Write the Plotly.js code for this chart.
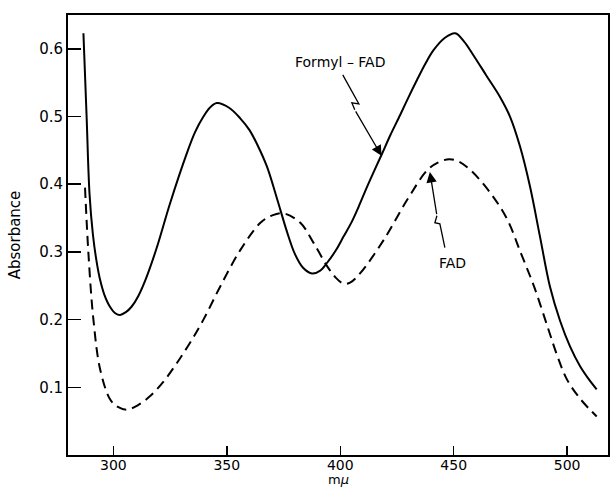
<!DOCTYPE html>
<html>
<head>
<meta charset="utf-8">
<script src="https://cdn.plot.ly/plotly-3.0.1.min.js"></script>
<style>html,body{margin:0;padding:0;background:#fff;}#chart{width:610px;height:488px;}</style>
</head>
<body>
<div id="chart"></div>
<script>
// Wavelength (mμ) and absorbance, Formyl-FAD (solid)
const formylX = [286.8, 288.2, 289.5, 291, 292.5, 294.2, 296, 298.5, 301, 303, 305.5, 308, 311, 314.4, 319, 325, 332.4, 336, 339.7, 342.5, 345.6, 351, 356, 360, 363.5, 367.7, 372.1, 376.5, 380, 383.5, 387.6, 391, 394.2, 398, 401.5, 405, 408, 411.8, 415, 418.4, 422, 426.5, 430, 433.8, 437.5, 441.1, 446, 450.7, 454.5, 458.6, 464.5, 470.4, 474.8, 479.2, 483.6, 488, 492.4, 496.9, 501.3, 505.7, 509.5, 513];
const formylY = [0.623, 0.500, 0.385, 0.325, 0.288, 0.258, 0.237, 0.219, 0.209, 0.207, 0.211, 0.219, 0.235, 0.261, 0.305, 0.372, 0.446, 0.477, 0.500, 0.513, 0.520, 0.513, 0.497, 0.480, 0.458, 0.426, 0.379, 0.330, 0.297, 0.277, 0.268, 0.272, 0.284, 0.302, 0.323, 0.344, 0.366, 0.396, 0.420, 0.445, 0.472, 0.503, 0.528, 0.554, 0.578, 0.598, 0.616, 0.623, 0.611, 0.591, 0.560, 0.529, 0.500, 0.456, 0.397, 0.323, 0.249, 0.198, 0.160, 0.131, 0.112, 0.097];
// FAD (dashed)
const fadX = [287.5, 289, 291.2, 294.2, 298.6, 302, 306, 311, 316.2, 322, 328, 334, 339.7, 347.1, 356, 364.8, 370, 375, 382.4, 388.3, 394.2, 398, 401.5, 404.5, 408.9, 419.2, 429.5, 438.4, 443, 448, 452, 457.4, 466.2, 473.6, 479.5, 485.4, 491.3, 495.7, 500, 506, 513];
const fadY = [0.395, 0.298, 0.200, 0.126, 0.082, 0.071, 0.067, 0.074, 0.087, 0.108, 0.136, 0.167, 0.200, 0.249, 0.303, 0.343, 0.354, 0.357, 0.343, 0.313, 0.279, 0.262, 0.253, 0.255, 0.269, 0.318, 0.377, 0.421, 0.432, 0.437, 0.434, 0.421, 0.387, 0.348, 0.299, 0.249, 0.190, 0.146, 0.111, 0.082, 0.057];

const xTicks = [300, 350, 400, 450, 500];
const yTicks = [0.1, 0.2, 0.3, 0.4, 0.5, 0.6];
const yTickText = ['0.1', '0.2', '0.3', '0.4', '0.5', '0.6'];
const xTitle = 'm<i>μ</i>';
const yTitle = 'Absorbance';

// label pointers (tail polyline with break mark, then arrow to the curve)
const formylLabel = {text: 'Formyl – FAD', x: 399.8, y: 0.581};
const formylPtrX = [401.1, 408.2, 405.1, 406.4];
const formylPtrY = [0.5616, 0.5188, 0.5202, 0.5099];
const formylHead = [418.2, 0.442];
const fadLabel = {text: 'FAD', x: 449.4, y: 0.284};
const fadPtrX = [446.1, 443.9, 441.7, 442.6];
const fadPtrY = [0.3062, 0.3416, 0.3431, 0.3535];
const fadHead = [439.5, 0.418];

const fam = 'DejaVu Sans, sans-serif';

function ptrPath(xs, ys) {
  return xs.map((v, i) => (i === 0 ? 'M' : 'L') + v + ',' + ys[i]).join(' ');
}

const traces = [
  {x: formylX, y: formylY, mode: 'lines', line: {color: '#000', width: 2, shape: 'spline', smoothing: 1}, hoverinfo: 'skip'},
  {x: fadX, y: fadY, mode: 'lines', line: {color: '#000', width: 2, shape: 'spline', smoothing: 1, dash: '10px,6px'}, hoverinfo: 'skip'}
];

const layout = {
  width: 610, height: 488,
  margin: {l: 68, r: 2, t: 15, b: 33},
  paper_bgcolor: '#fff', plot_bgcolor: '#fff',
  showlegend: false,
  font: {family: fam, size: 14, color: '#000'},
  xaxis: {
    range: [280, 518], tickvals: xTicks, ticktext: xTicks.map(String),
    ticks: 'inside', ticklen: 9, tickwidth: 1.5, tickcolor: '#000',
    ticklabelstandoff: -4,
    showline: true, linewidth: 2, linecolor: '#000', mirror: true,
    showgrid: false, zeroline: false,
    tickfont: {family: fam, size: 14, color: '#000'}
  },
  yaxis: {
    range: [0, 0.65], tickvals: yTicks, ticktext: yTickText,
    ticks: 'inside', ticklen: 13, tickwidth: 1.5, tickcolor: '#000',
    showline: true, linewidth: 2, linecolor: '#000', mirror: true,
    showgrid: false, zeroline: false,
    tickfont: {family: fam, size: 15, color: '#000'},
    title: {text: yTitle, font: {family: fam, size: 15, color: '#000'}, standoff: 15}
  },
  shapes: [
    {type: 'path', xref: 'x', yref: 'y', path: ptrPath(formylPtrX, formylPtrY), line: {color: '#000', width: 1.3}},
    {type: 'path', xref: 'x', yref: 'y', path: ptrPath(fadPtrX, fadPtrY), line: {color: '#000', width: 1.3}}
  ],
  annotations: [
    {xref: 'paper', yref: 'paper', x: 0.5, y: -0.0568, yanchor: 'middle', text: xTitle, showarrow: false, borderpad: 0, font: {family: fam, size: 13, color: '#000'}},
    {x: formylLabel.x, y: formylLabel.y, text: formylLabel.text, showarrow: false, font: {family: fam, size: 14, color: '#000'}},
    {x: fadLabel.x, y: fadLabel.y, text: fadLabel.text, showarrow: false, font: {family: fam, size: 14, color: '#000'}},
    {x: formylHead[0], y: formylHead[1], ax: formylPtrX[3], ay: formylPtrY[3], axref: 'x', ayref: 'y', text: '', showarrow: true, arrowhead: 2, arrowsize: 1.6, arrowwidth: 1.3, arrowcolor: '#000'},
    {x: fadHead[0], y: fadHead[1], ax: fadPtrX[3], ay: fadPtrY[3], axref: 'x', ayref: 'y', text: '', showarrow: true, arrowhead: 2, arrowsize: 1.6, arrowwidth: 1.3, arrowcolor: '#000'}
  ]
};

Plotly.newPlot('chart', traces, layout, {displayModeBar: false, staticPlot: true});
</script>
</body>
</html>
